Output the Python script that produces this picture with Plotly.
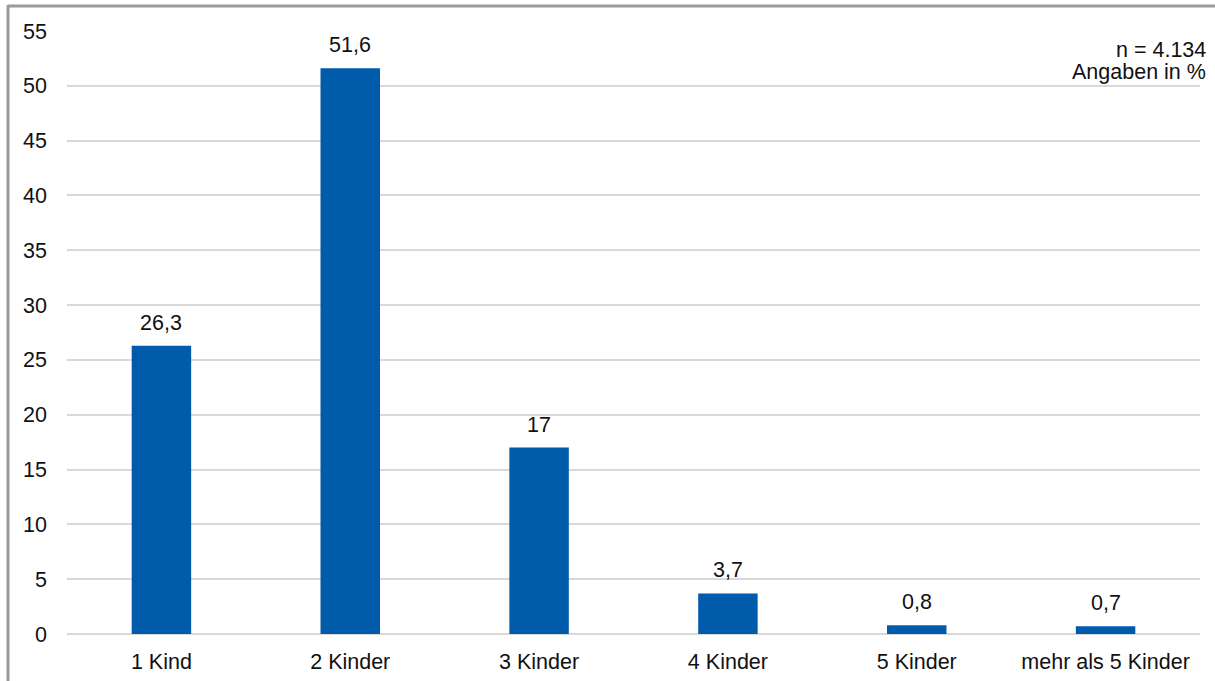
import plotly.graph_objects as go

categories = ["1 Kind", "2 Kinder", "3 Kinder", "4 Kinder", "5 Kinder", "mehr als 5 Kinder"]
values = [26.3, 51.6, 17, 3.7, 0.8, 0.7]
labels = ["26,3", "51,6", "17", "3,7", "0,8", "0,7"]
tick_vals = [0, 5, 10, 15, 20, 25, 30, 35, 40, 45, 50, 55]
note_lines = ["n = 4.134", "Angaben in %"]

FONT = "Liberation Sans, Arial, sans-serif"
FS = 21.5
W, H = 1215, 681
ML, MR, MT, MB = 67, 15, 31, 47
PW, PH = W - ML - MR, H - MT - MB

fig = go.Figure(go.Bar(
    x=categories, y=values,
    marker=dict(color="#005BAA", line=dict(width=0)),
    hoverinfo="x+y",
))

value_annotations = [
    dict(x=c, y=v, text=t, xref="x", yref="y", showarrow=False,
         xanchor="center", yanchor="bottom", yshift=9,
         font=dict(family=FONT, size=FS, color="#111111"))
    for c, v, t in zip(categories, values, labels)
]

note_annotations = [
    dict(text=note_lines[0], xref="paper", yref="paper", x=(1208 - ML) / PW,
         y=(H - MB - 64) / PH, xanchor="right", yanchor="bottom", showarrow=False,
         font=dict(family=FONT, size=FS, color="#111111")),
    dict(text=note_lines[1], xref="paper", yref="paper", x=(1208 - ML) / PW,
         y=(H - MB - 86) / PH, xanchor="right", yanchor="bottom", showarrow=False,
         font=dict(family=FONT, size=FS, color="#111111")),
]

fig.update_layout(
    width=W, height=H,
    margin=dict(l=ML, r=MR, t=MT, b=MB, autoexpand=False),
    paper_bgcolor="white", plot_bgcolor="white",
    bargap=0.685,
    showlegend=False,
    font=dict(family=FONT, size=FS, color="#111111"),
    xaxis=dict(showgrid=False, showline=False, ticks="", tickfont=dict(size=FS),
               ticklabelstandoff=12, automargin=False),
    yaxis=dict(range=[0, 55], tickvals=tick_vals, showgrid=True, gridcolor="#d9d9d9",
               gridwidth=2, zeroline=True, zerolinecolor="#d9d9d9", zerolinewidth=2,
               showline=False, ticks="", tickfont=dict(size=FS), ticklabelstandoff=19,
               automargin=False),
    annotations=value_annotations + note_annotations,
    shapes=[
        dict(type="line", xref="paper", yref="paper",
             x0=(8 - ML) / PW, x1=(W - ML) / PW,
             y0=(H - MB - 6) / PH, y1=(H - MB - 6) / PH,
             line=dict(color="#9a9a9a", width=3)),
        dict(type="line", xref="paper", yref="paper",
             x0=(8 - ML) / PW, x1=(8 - ML) / PW,
             y0=(H - MB - 5) / PH, y1=-MB / PH,
             line=dict(color="#9a9a9a", width=3)),
    ],
)

fig.write_html("out.html", config={"displayModeBar": False},
               post_script="document.body.style.margin='0';document.body.style.overflow='hidden';")
